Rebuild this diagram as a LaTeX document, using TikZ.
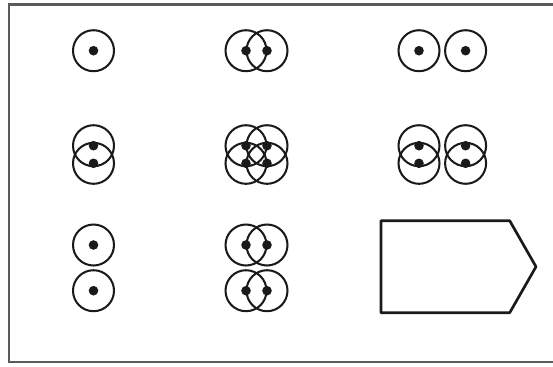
\documentclass[tikz,border=0pt]{standalone}
\usepackage{tikz}
\usepackage{xcolor}
\definecolor{framegray}{HTML}{5A5A5A}
\definecolor{inkdark}{HTML}{1A1A1A}

\begin{document}
\begin{tikzpicture}[
    x=0.05cm, y=-0.05cm,
    ring/.style={draw=inkdark, circle, minimum size=2.05cm, inner sep=0pt,
                 line width=2.9pt},
    dot/.style={fill=inkdark, circle, minimum size=0.48cm, inner sep=0pt},
    frame/.style={draw=framegray, line width=3.2pt},
    plate/.style={draw=inkdark, line width=3.8pt, line join=round}
]
  \useasboundingbox (0,0) rectangle (553,366);
  % Outer frame (open to the right)
  \draw[frame] (553,4.5) -- (9.3,4.5) -- (9.3,361.7) -- (553,361.7);

  % Row 1
  \node[ring] (a1) at (93.5,50.7) {};
  \node[dot] at (a1) {};
  \node[ring] (b1l) at (246,50.7) {};
  \node[ring] (b1r) at (267,50.7) {};
  \node[dot] at (b1l) {};
  \node[dot] at (b1r) {};
  \node[ring] (c1l) at (419,50.7) {};
  \node[ring] (c1r) at (465.6,50.7) {};
  \node[dot] at (c1l) {};
  \node[dot] at (c1r) {};

  % Row 2
  \node[ring] (a2t) at (93.5,145.7) {};
  \node[ring] (a2b) at (93.5,163.3) {};
  \node[dot] at (a2t) {};
  \node[dot] at (a2b) {};
  \foreach \px/\py [count=\k] in {246/145.7, 267/145.7, 246/163.3, 267/163.3} {
    \node[ring] (b2\k) at (\px,\py) {};
    \node[dot] at (b2\k) {};
  }
  \foreach \px/\py [count=\k] in {419/145.7, 419/163.3, 465.6/145.7, 465.6/163.3} {
    \node[ring] (c2\k) at (\px,\py) {};
    \node[dot] at (c2\k) {};
  }

  % Row 3
  \node[ring] (a3t) at (93.5,245) {};
  \node[ring] (a3b) at (93.5,290.7) {};
  \node[dot] at (a3t) {};
  \node[dot] at (a3b) {};
  \foreach \px/\py [count=\k] in {246/245, 267/245, 246/290.7, 267/290.7} {
    \node[ring] (b3\k) at (\px,\py) {};
    \node[dot] at (b3\k) {};
  }

  % Pointed plate
  \draw[plate] (381,220.7) -- (509.7,220.7) -- (536,266.7)
    -- (509.7,312.7) -- (381,312.7) -- cycle;
\end{tikzpicture}
\end{document}
